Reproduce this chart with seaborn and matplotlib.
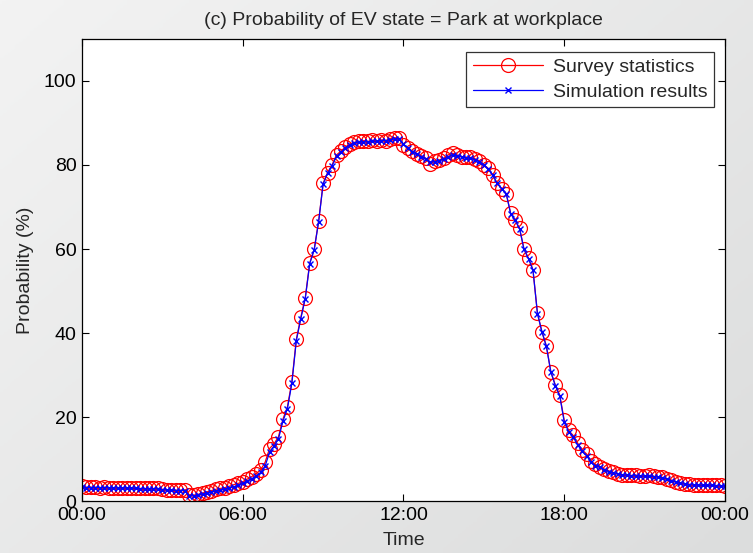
import numpy as np
import pandas as pd
import matplotlib
matplotlib.use("Agg")
import matplotlib.pyplot as plt
import seaborn as sns
from matplotlib.colors import LinearSegmentedColormap

# Probability (%) of the EV being parked at the workplace, sampled every 10 minutes
survey = [
    3.6, 3.3, 3.3, 3.3, 3.2, 3.3, 3.2, 3.2, 3.2, 3.2, 3.1, 3.2,
    3.1, 3.0, 3.0, 3.0, 3.0, 3.0, 2.8, 2.7, 2.7, 2.6, 2.6, 2.6,
    1.5, 1.4, 1.6, 1.9, 2.2, 2.5, 2.8, 3.0, 3.2, 3.5, 3.9, 4.2,
    4.6, 5.2, 5.8, 6.5, 7.4, 9.2, 12.5, 13.6, 15.3, 19.5, 22.4, 28.4,
    38.5, 43.7, 48.4, 56.7, 59.9, 66.7, 75.6, 78.2, 80.0, 82.4, 83.3, 84.3,
    85.0, 85.4, 85.6, 85.8, 85.6, 85.9, 85.7, 86.0, 85.8, 86.3, 86.5, 86.4,
    84.8, 84.0, 83.3, 82.6, 82.2, 81.6, 80.2, 81.0, 81.2, 81.6, 82.4, 82.8,
    82.4, 82.0, 81.9, 81.8, 81.5, 81.0, 80.0, 79.2, 77.6, 75.6, 74.4, 73.2,
    68.5, 66.9, 64.9, 59.9, 57.8, 55.0, 44.7, 40.3, 36.9, 30.8, 27.6, 25.2,
    19.2, 16.8, 15.6, 13.8, 12.2, 11.2, 9.5, 8.7, 8.2, 7.6, 7.2, 6.8,
    6.5, 6.3, 6.2, 6.1, 6.2, 6.0, 6.0, 6.1, 5.9, 5.8, 5.6, 5.3,
    5.0, 4.6, 4.3, 4.1, 4.0, 3.9, 3.9, 3.8, 3.8, 3.8, 3.7, 3.7,
    3.6,
]

simulation = [
    3.3, 3.2, 3.2, 3.2, 3.2, 3.2, 3.1, 3.1, 3.1, 3.1, 3.1, 3.1,
    3.0, 2.9, 2.9, 2.9, 2.9, 2.9, 2.7, 2.6, 2.6, 2.5, 2.5, 2.5,
    1.3, 1.2, 1.4, 1.6, 1.9, 2.1, 2.4, 2.6, 2.8, 3.1, 3.4, 3.8,
    4.2, 4.7, 5.3, 6.0, 6.8, 8.3, 11.6, 13.1, 14.8, 19.0, 22.0, 28.0,
    38.2, 43.4, 48.2, 56.5, 59.8, 66.5, 75.5, 78.0, 79.8, 82.1, 83.0, 84.1,
    84.8, 85.2, 85.4, 85.5, 85.5, 85.7, 85.6, 85.8, 85.8, 86.0, 86.2, 86.2,
    85.0, 84.0, 83.2, 82.5, 82.0, 81.4, 80.6, 80.8, 81.0, 81.4, 82.0, 82.4,
    82.2, 81.9, 81.7, 81.6, 81.3, 80.8, 79.9, 79.0, 77.5, 75.6, 74.3, 73.2,
    68.4, 66.8, 64.8, 59.9, 57.7, 55.0, 44.6, 40.3, 36.8, 30.7, 27.5, 25.0,
    18.8, 16.5, 15.2, 13.4, 11.8, 10.8, 9.2, 8.4, 8.0, 7.4, 7.0, 6.7,
    6.4, 6.2, 6.1, 6.0, 6.0, 5.9, 5.9, 5.9, 5.8, 5.7, 5.5, 5.2,
    4.8, 4.5, 4.2, 4.0, 3.9, 3.8, 3.8, 3.7, 3.7, 3.7, 3.6, 3.6,
    3.5,
]

tick_hours = [0, 6, 12, 18, 24]
tick_labels = ["00:00", "06:00", "12:00", "18:00", "00:00"]
y_ticks = [0, 20, 40, 60, 80, 100]

hours = np.arange(len(survey)) / 6.0  # 10-minute sampling grid
df = pd.DataFrame({"hour": hours, "survey": survey, "simulation": simulation})

sns.set_theme(style="white")
plt.rcParams["font.family"] = ["Liberation Sans", "DejaVu Sans"]
FS = 14

fig = plt.figure(figsize=(7.53, 5.53), dpi=100)

# soft grey window background
bg = fig.add_axes([0, 0, 1, 1], zorder=-10)
gx, gy = np.meshgrid(np.linspace(0, 1, 200), np.linspace(0, 1, 200))
grad = 0.55 * gx + 0.45 * gy
cmap = LinearSegmentedColormap.from_list("bg", ["#f3f3f3", "#dcdddd"])
bg.imshow(grad, cmap=cmap, aspect="auto", extent=[0, 1, 0, 1], origin="upper")
bg.set_axis_off()

ax = fig.add_axes([0.1089, 0.094, 0.8539, 0.8355])
ax.set_facecolor("white")

sns.lineplot(data=df, x="hour", y="survey", ax=ax, color="red", lw=0.9,
             marker="o", markersize=10, markerfacecolor="none",
             markeredgecolor="red", markeredgewidth=0.9,
             label="Survey statistics", estimator=None, sort=False)
sns.lineplot(data=df, x="hour", y="simulation", ax=ax, color="blue", lw=0.9,
             marker="x", markersize=5, markeredgecolor="blue",
             markeredgewidth=1.0, label="Simulation results",
             estimator=None, sort=False)

ax.set_xlim(0, 24)
ax.set_ylim(0, 110)
ax.set_xticks(tick_hours)
ax.set_xticklabels(tick_labels)
ax.set_yticks(y_ticks)

for side in ax.spines.values():
    side.set_color("black")
    side.set_linewidth(0.9)
ax.tick_params(direction="in", length=5, width=0.8, colors="black",
               labelsize=FS, top=True, right=True, bottom=True, left=True,
               pad=4)

ax.set_xlabel("Time", fontsize=FS, labelpad=6)
ax.set_ylabel("Probability (%)", fontsize=FS, labelpad=7)
ax.set_title("(c) Probability of EV state = Park at workplace", fontsize=FS,
             pad=10)

leg = ax.legend(loc="upper right", bbox_to_anchor=(0.992, 0.985), fontsize=FS,
                frameon=True, fancybox=False, edgecolor="black",
                handlelength=3.6, handletextpad=0.5, borderpad=0.35,
                labelspacing=0.35, borderaxespad=0.3)
leg.get_frame().set_linewidth(0.9)

fig.savefig("out.png", dpi=100)
